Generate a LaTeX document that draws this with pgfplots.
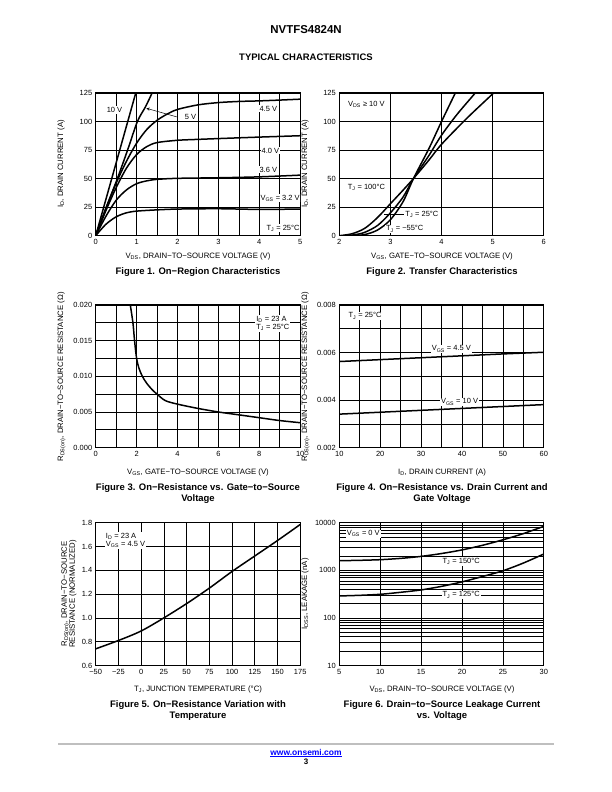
\documentclass[border=0pt]{standalone}
\usepackage{fontspec}
\setmainfont{Liberation Sans}
\usepackage{pgfplots}
\pgfplotsset{compat=1.18}
\begin{document}
\begin{tikzpicture}[x=1bp,y=1bp]
\fill[white] (0,0) rectangle (612,792);
\pgfplotsset{
  ds/.style={scale only axis, width=204.5bp, height=142.8bp, anchor=south west,
    axis line style={black,line width=0.8bp},
    grid=both, major grid style={black,line width=0.7bp}, minor grid style={black,line width=0.7bp},
    major tick length=0pt, minor tick length=0pt,
    tick label style={font=\fontsize{7.5}{8}\selectfont},
    /pgf/number format/assume math mode=true,
    xticklabel style={yshift=-0.5bp},
    cycle list={{black,mark=none}},
    every axis plot/.append style={black, line width=1.5bp, no markers},
  },
}
\tikzset{lbl/.style={font=\fontsize{7.5}{8}\selectfont, fill=white, inner sep=1bp},
  axtxt/.style={font=\fontsize{7.8}{8}\selectfont},
  figcap/.style={font=\fontsize{9.5}{11}\bfseries\selectfont, align=center}}
% header
\node[font=\fontsize{11.5}{12}\bfseries\selectfont] at (306,762) {NVTFS4824N};
\node[font=\fontsize{9.5}{10}\bfseries\selectfont] at (306,735) {TYPICAL CHARACTERISTICS};

% ---------- Figure 1
\begin{axis}[ds, at={(95.7bp,556.3bp)}, xmin=0,xmax=5,ymin=0,ymax=125,
  xtick={0,...,5}, minor xtick={0.5,1.5,2.5,3.5,4.5}, ytick={0,25,...,125}]
\addplot coordinates {(0,0)(0.98,125)(1.01,129)};
\addplot+[smooth] coordinates {(0,0)(0.25,24)(0.53,50)(0.78,75)(1.02,100)(1.22,113)(1.38,125)(1.42,128)};
\addplot+[smooth] coordinates {(0,0)(0.25,24)(0.5,46)(0.75,65)(1,81)(1.25,93)(1.5,101)(1.75,106.5)(2,110.5)(2.5,114.5)(3,116.5)(3.5,117.5)(4,118)(4.5,118.7)(5,119.5)};
\addplot+[smooth] coordinates {(0,0)(0.25,22)(0.5,42)(0.75,59)(1,71)(1.25,78)(1.5,81.5)(2,83.5)(2.5,84.3)(3,85)(4,86.3)(5,87.5)};
\addplot+[smooth] coordinates {(0,0)(0.25,17)(0.5,31)(0.75,40)(1,45.5)(1.25,48)(1.5,49.3)(2,50.2)(3,50.7)(4,51.5)(5,53)};
\addplot+[smooth] coordinates {(0,0)(0.25,10)(0.5,16.5)(0.75,20)(1,21.5)(1.5,22.6)(2,23.3)(3,23.6)(4,23)(5,23.3)};
\node[lbl] at (axis cs:0.46,110) {10 V};
\node[lbl] at (axis cs:2.32,104) {5 V};
\draw[->,>=stealth,line width=0.5bp] (axis cs:1.98,104) -- (axis cs:1.24,111.5);
\node[lbl] at (axis cs:4.22,111) {4.5 V};
\node[lbl] at (axis cs:4.27,74.5) {4.0 V};
\node[lbl] at (axis cs:4.22,57.7) {3.6 V};
\node[lbl] at (axis cs:4.51,32.8) {V\textsubscript{GS} = 3.2 V};
\node[lbl] at (axis cs:4.58,6.5) {T\textsubscript{J} = 25°C};
\end{axis}
\node[axtxt,rotate=90] at (61,628) {I\textsubscript{D}, DRAIN CURRENT (A)};
\node[axtxt] at (198,536) {V\textsubscript{DS}, DRAIN−TO−SOURCE VOLTAGE (V)};
\node[figcap] at (198,520) {Figure 1. On−Region Characteristics};

% ---------- Figure 2
\begin{axis}[ds, at={(339.3bp,556.3bp)}, xmin=2,xmax=6,ymin=0,ymax=125,
  xtick={2,...,6}, ytick={0,25,...,125}, grid=major]
\addplot+[smooth] coordinates {(2,0)(2.25,1.7)(2.5,6.5)(2.75,16)(3,28)(3.25,40)(3.45,50)(3.75,66)(4,80)(4.5,103)(5.02,125)(5.1,129)};
\addplot+[smooth] coordinates {(2.1,0)(2.3,0.8)(2.5,3)(2.75,9)(3,20)(3.25,34)(3.45,50)(3.75,70)(4,88)(4.3,106)(4.66,125)(4.72,129)};
\addplot+[smooth] coordinates {(2.25,0)(2.5,1)(2.75,5)(3,14)(3.25,30)(3.45,50)(3.75,76)(4,100)(4.27,125)(4.31,129)};
\node[lbl] at (axis cs:2.53,115) {V\textsubscript{DS} ≥ 10 V};
\node[lbl] at (axis cs:2.53,42) {T\textsubscript{J} = 100°C};
\draw[line width=0.8bp] (axis cs:2.88,18.5) -- (axis cs:3.27,18.5);
\node[lbl,anchor=west] at (axis cs:3.27,18.5) {T\textsubscript{J} = 25°C};
\node[lbl] at (axis cs:3.28,6) {T\textsubscript{J} = −55°C};
\end{axis}
\node[axtxt,rotate=90] at (305,628) {I\textsubscript{D}, DRAIN CURRENT (A)};
\node[axtxt] at (442,536) {V\textsubscript{GS}, GATE−TO−SOURCE VOLTAGE (V)};
\node[figcap] at (442,520) {Figure 2. Transfer Characteristics};

% ---------- Figure 3
\begin{axis}[ds, at={(95.7bp,344.3bp)}, xmin=0,xmax=10,ymin=0,ymax=0.02,
  xtick={0,2,...,10}, minor xtick={1,3,5,7,9},
  ytick={0,0.005,0.01,0.015,0.02}, minor ytick={0.0025,0.0075,0.0125,0.0175},
  scaled y ticks=false,
  yticklabel style={/pgf/number format/.cd,fixed,fixed zerofill,precision=3}]
\addplot+[smooth] coordinates {(1.68,0.0202)(1.82,0.0175)(1.9,0.015)(2.0,0.0125)(2.12,0.0111)(2.28,0.0100)(2.5,0.0090)(2.77,0.0081)(3.0,0.0075)(3.4,0.0066)(4,0.0061)(5,0.0055)(6,0.0050)(7,0.0046)(8,0.0042)(9,0.0038)(10,0.0035)};
\node[lbl,anchor=west,align=left] at (axis cs:7.8,0.0174) {I\textsubscript{D} = 23 A\\T\textsubscript{J} = 25°C};
\end{axis}
\node[axtxt,rotate=90] at (61.5,415) {R\textsubscript{DS(on)}, DRAIN−TO−SOURCE RESISTANCE (Ω)};
\node[axtxt] at (198,320) {V\textsubscript{GS}, GATE−TO−SOURCE VOLTAGE (V)};
\node[figcap] at (198,298.5) {Figure 3. On−Resistance vs. Gate−to−Source\\Voltage};

% ---------- Figure 4
\begin{axis}[ds, at={(339.3bp,344.3bp)}, xmin=10,xmax=60,ymin=0.002,ymax=0.008,
  xtick={10,20,...,60}, minor xtick={15,25,...,55},
  ytick={0.002,0.004,0.006,0.008}, minor ytick={0.003,0.005,0.007},
  scaled y ticks=false,
  yticklabel style={/pgf/number format/.cd,fixed,fixed zerofill,precision=3}]
\addplot coordinates {(10,0.00562)(20,0.0057)(30,0.00578)(40,0.00586)(50,0.00594)(60,0.00601)};
\addplot coordinates {(10,0.00341)(20,0.00349)(30,0.00357)(40,0.00365)(50,0.00373)(60,0.00381)};
\node[lbl] at (axis cs:16.3,0.00754) {T\textsubscript{J} = 25°C};
\node[lbl] at (axis cs:37.4,0.00615) {V\textsubscript{GS} = 4.5 V};
\node[lbl] at (axis cs:39.4,0.00392) {V\textsubscript{GS} = 10 V};
\end{axis}
\node[axtxt,rotate=90] at (305.5,415) {R\textsubscript{DS(on)}, DRAIN−TO−SOURCE RESISTANCE (Ω)};
\node[axtxt] at (442,320) {I\textsubscript{D}, DRAIN CURRENT (A)};
\node[figcap] at (442,298.5) {Figure 4. On−Resistance vs. Drain Current and\\Gate Voltage};

% ---------- Figure 5
\begin{axis}[ds, at={(95.7bp,126.5bp)}, xmin=-50,xmax=175,ymin=0.6,ymax=1.8,
  xtick={-50,-25,...,175}, xticklabels={−50,−25,0,25,50,75,100,125,150,175},
  ytick={0.6,0.8,...,1.8}, grid=major,
  yticklabel style={/pgf/number format/.cd,fixed,fixed zerofill,precision=1}]
\addplot+[smooth] coordinates {(-50,0.74)(-25,0.81)(0,0.89)(25,1.0)(50,1.12)(75,1.25)(100,1.39)(125,1.52)(150,1.65)(175,1.785)};
\node[lbl,anchor=west,align=left] at (axis cs:-40,1.65) {I\textsubscript{D} = 23 A\\V\textsubscript{GS} = 4.5 V};
\end{axis}
\node[axtxt,rotate=90,align=center] at (69,198) {R\textsubscript{DS(on)}, DRAIN−TO−SOURCE\\RESISTANCE (NORMALIZED)};
\node[axtxt] at (198,103) {T\textsubscript{J}, JUNCTION TEMPERATURE (°C)};
\node[figcap] at (198,81.5) {Figure 5. On−Resistance Variation with\\Temperature};

% ---------- Figure 6
\begin{axis}[ds, at={(339.3bp,126.5bp)}, xmin=5,xmax=30,ymin=10,ymax=10000, ymode=log,
  xtick={5,10,...,30}, ytick={10,100,1000,10000}, yticklabels={10,100,1000,10000},
  minor ytick={20,30,40,50,60,70,80,90,200,300,400,500,600,700,800,900,2000,3000,4000,5000,6000,7000,8000,9000},
  grid=both]
\addplot+[smooth] coordinates {(5,1590)(7.5,1620)(10,1670)(12.5,1780)(15,1960)(17.5,2250)(20,2680)(22.5,3350)(25,4370)(27.5,5900)(30,8400)};
\addplot+[smooth] coordinates {(5,289)(7.5,298)(10,313)(12.5,345)(15,387)(17.5,460)(20,571)(22.5,740)(25,977)(27.5,1420)(30,2200)};
\node[lbl] at (axis cs:7.93,5850) {V\textsubscript{GS} = 0 V};
\node[lbl] at (axis cs:19.9,1540) {T\textsubscript{J} = 150°C};
\node[lbl] at (axis cs:19.9,303) {T\textsubscript{J} = 125°C};
\end{axis}
\node[axtxt,rotate=90] at (305,198) {I\textsubscript{DSS}, LEAKAGE (nA)};
\node[axtxt] at (442,103) {V\textsubscript{DS}, DRAIN−TO−SOURCE VOLTAGE (V)};
\node[figcap] at (442,81.5) {Figure 6. Drain−to−Source Leakage Current\\vs. Voltage};

% footer
\draw[black!25,line width=1.5bp] (58,48) -- (554,48);
\node[font=\fontsize{8.5}{9}\bfseries\selectfont,text=blue] at (306,39) {\underline{www.onsemi.com}};
\node[font=\fontsize{8}{9}\bfseries\selectfont] at (306,30) {3};
\end{tikzpicture}
\end{document}
